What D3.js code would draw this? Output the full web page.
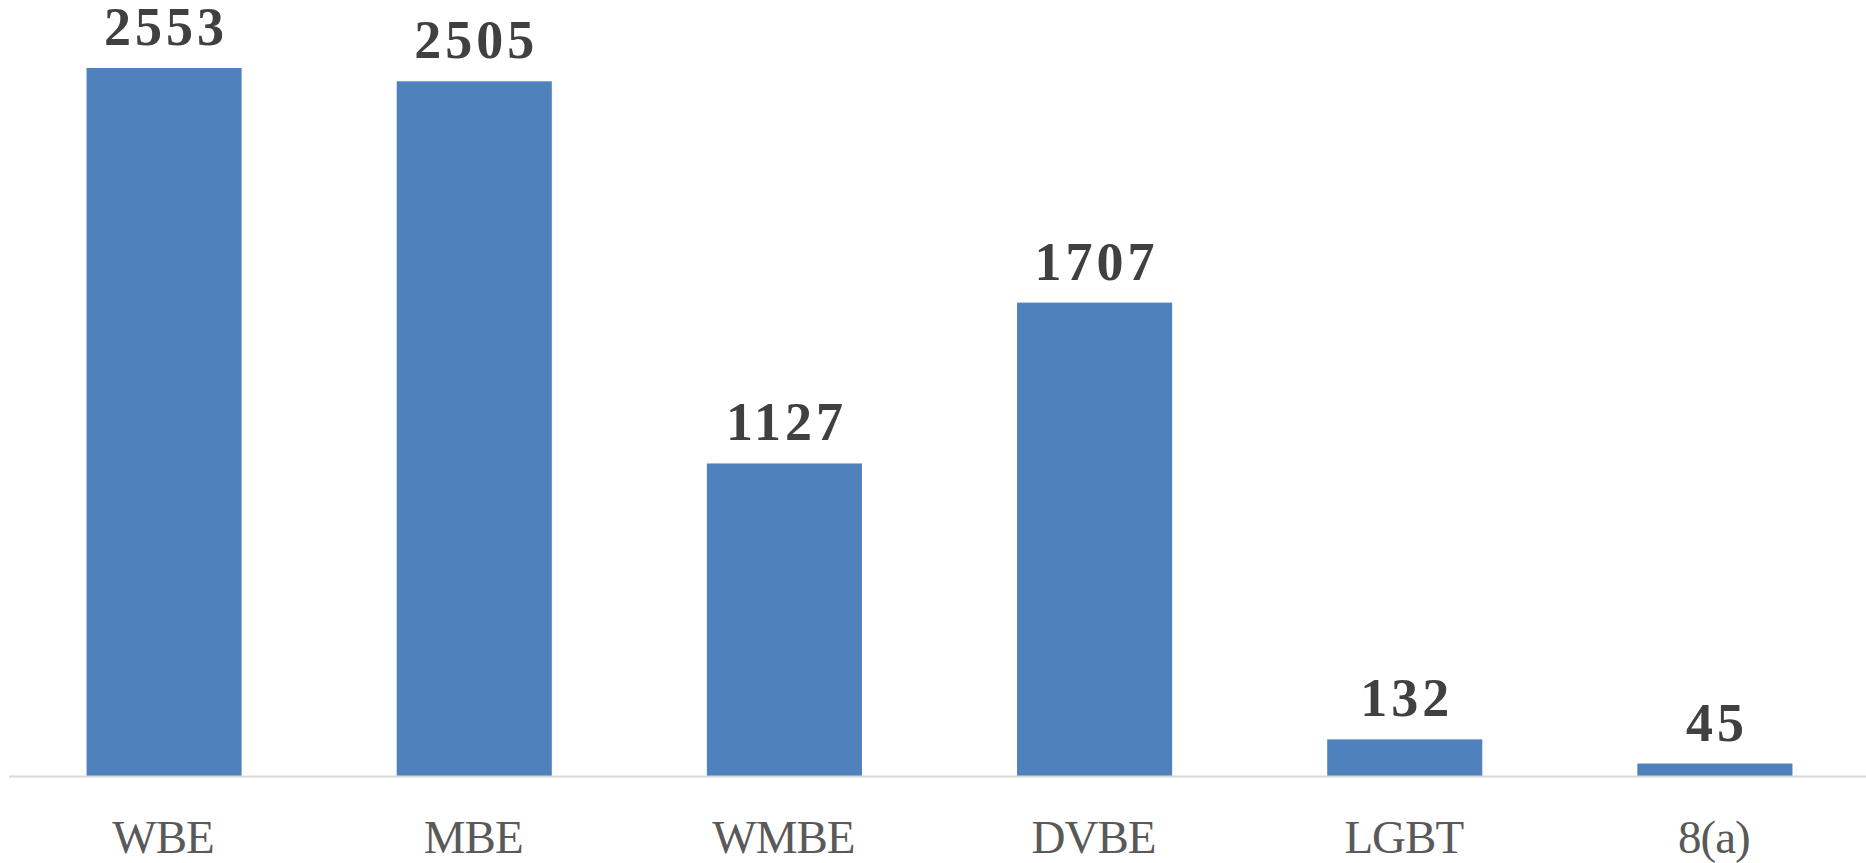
<!DOCTYPE html>
<html>
<head>
<meta charset="utf-8">
<script src="https://cdn.jsdelivr.net/npm/d3@7"></script>
<style>
  html, body { margin: 0; padding: 0; background: #fff; overflow: hidden; }
  #chart { width: 1866px; height: 863px; }
</style>
</head>
<body>
<div id="chart"></div>
<script>
// data
var categories = ["WBE", "MBE", "WMBE", "DVBE", "LGBT", "8(a)"];
var counts = [2553, 2505, 1127, 1707, 132, 45];

var width = 1866, height = 863;
var baseY = 776;

var svg = d3.select("#chart").append("svg")
    .attr("width", width)
    .attr("height", height);

// scales
var x = d3.scaleBand()
    .domain(categories)
    .range([9, 1870])
    .paddingInner(0.5)
    .paddingOuter(0.25);

var y = d3.scaleLinear()
    .domain([0, 2800])
    .range([baseY, -0.5]);

// bars
svg.selectAll(".bar")
    .data(counts)
  .enter().append("rect")
    .attr("class", "bar")
    .attr("x", function(d, i) { return x(categories[i]); })
    .attr("y", function(d) { return y(d); })
    .attr("width", x.bandwidth())
    .attr("height", function(d) { return baseY - y(d); })
    .attr("fill", "#4f81bd");

// axis line
svg.append("line")
    .attr("x1", 9)
    .attr("x2", width)
    .attr("y1", baseY + 0.5)
    .attr("y2", baseY + 0.5)
    .attr("stroke", "#d9d9d9")
    .attr("stroke-width", 2);

// value labels
svg.selectAll(".val")
    .data(counts)
  .enter().append("text")
    .attr("class", "val")
    .attr("x", function(d, i) { return x(categories[i]) + x.bandwidth() / 2 + 2; })
    .attr("y", function(d) { return y(d) - 23; })
    .attr("text-anchor", "middle")
    .attr("font-family", "'Liberation Serif', 'DejaVu Serif', serif")
    .attr("font-weight", "bold")
    .attr("font-size", 54)
    .attr("letter-spacing", 4)
    .attr("fill", "#404040")
    .text(function(d) { return d; });

// category labels
svg.selectAll(".cat")
    .data(categories)
  .enter().append("text")
    .attr("class", "cat")
    .attr("x", function(d) { return x(d) + x.bandwidth() / 2 - 1; })
    .attr("y", 853)
    .attr("text-anchor", "middle")
    .attr("font-family", "'Liberation Serif', 'DejaVu Serif', serif")
    .attr("font-size", 47)
    .attr("letter-spacing", -1)
    .attr("fill", "#595959")
    .text(function(d) { return d; });
</script>
</body>
</html>
